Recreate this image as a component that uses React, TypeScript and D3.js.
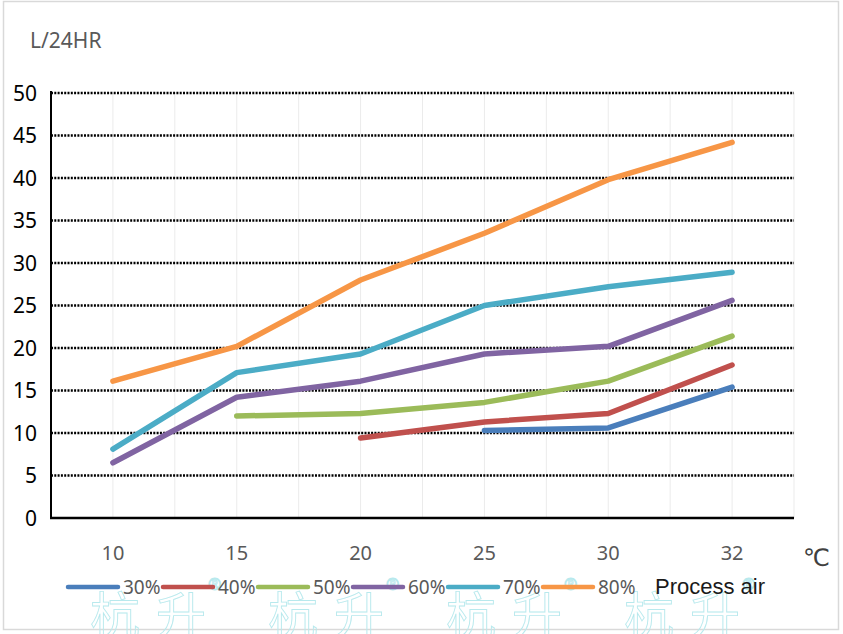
import React, { useRef, useEffect } from 'react';
import { select, scaleBand, scaleLinear, line, range } from 'd3';

const dim = {
  width: 843,
  height: 634,
  left: 51,
  right: 794,
  top: 93,
  bottom: 518,
};

const temps = ['10', '15', '20', '25', '30', '32'];
const yTicks = [0, 5, 10, 15, 20, 25, 30, 35, 40, 45, 50];

const rh30 = [null, null, null, 10.3, 10.6, 15.4];
const rh40 = [null, null, 9.4, 11.3, 12.3, 18.0];
const rh50 = [null, 12.0, 12.3, 13.6, 16.1, 21.4];
const rh60 = [6.5, 14.2, 16.1, 19.3, 20.2, 25.6];
const rh70 = [8.1, 17.1, 19.3, 25.0, 27.2, 28.9];
const rh80 = [16.1, 20.2, 28.0, 33.5, 39.8, 44.2];

const seriesNames = ['30%', '40%', '50%', '60%', '70%', '80%'];
const seriesValues = [rh30, rh40, rh50, rh60, rh70, rh80];
const colors = ['#4a7ebb', '#c0504d', '#9bbb59', '#8064a2', '#4bacc6', '#f79646'];

const FONT = '"Noto Sans", "Open Sans", sans-serif';

const App = () => {
  const svgRef = useRef(null);

  useEffect(() => {
    const svg = select(svgRef.current);
    svg.selectAll('*').remove();

    const x = scaleBand<string>().domain(temps).range([dim.left, dim.right]);
    const y = scaleLinear().domain([0, 50]).range([dim.bottom, dim.top]);
    const cx = (t: string) => (x(t) as number) + x.bandwidth() / 2;

    // frame
    svg
      .append('rect')
      .attr('x', 3.5)
      .attr('y', 1.5)
      .attr('width', 835)
      .attr('height', 628)
      .attr('fill', '#fff')
      .attr('stroke', '#d9d9d9')
      .attr('stroke-width', 1.5);

    // light vertical grid (category centres and boundaries)
    const vx: number[] = [];
    temps.forEach((t) => {
      vx.push(cx(t));
      vx.push((x(t) as number) + x.bandwidth());
    });
    svg
      .append('g')
      .selectAll('line')
      .data(vx)
      .join('line')
      .attr('x1', (d) => d)
      .attr('x2', (d) => d)
      .attr('y1', dim.top)
      .attr('y2', dim.bottom)
      .attr('stroke', '#ebebeb')
      .attr('stroke-width', 1);

    // dotted horizontal grid
    svg
      .append('g')
      .selectAll('line')
      .data(yTicks.filter((d) => d > 0))
      .join('line')
      .attr('x1', dim.left)
      .attr('x2', dim.right)
      .attr('y1', (d) => y(d))
      .attr('y2', (d) => y(d))
      .attr('stroke', '#000')
      .attr('stroke-width', 2.4)
      .attr('stroke-dasharray', '2,1.3');

    // axes lines
    svg
      .append('line')
      .attr('x1', dim.left)
      .attr('x2', dim.left)
      .attr('y1', dim.top - 2)
      .attr('y2', dim.bottom)
      .attr('stroke', '#000')
      .attr('stroke-width', 2);
    svg
      .append('line')
      .attr('x1', dim.left - 1)
      .attr('x2', dim.right)
      .attr('y1', dim.bottom)
      .attr('y2', dim.bottom)
      .attr('stroke', '#000')
      .attr('stroke-width', 2.5);

    // y tick labels
    svg
      .append('g')
      .selectAll('text')
      .data(yTicks)
      .join('text')
      .attr('x', 37)
      .attr('y', (d) => y(d) + 7.5)
      .attr('text-anchor', 'end')
      .attr('font-family', FONT)
      .attr('font-size', 21)
      .attr('fill', '#000')
      .text((d) => d);

    // x tick labels
    svg
      .append('g')
      .selectAll('text')
      .data(temps)
      .join('text')
      .attr('x', (d) => cx(d))
      .attr('y', 560)
      .attr('text-anchor', 'middle')
      .attr('font-family', FONT)
      .attr('font-size', 20)
      .attr('fill', '#595959')
      .text((d) => d);

    svg
      .append('text')
      .attr('x', 30)
      .attr('y', 48)
      .attr('font-family', FONT)
      .attr('font-size', 21)
      .attr('fill', '#595959')
      .text('L/24HR');

    svg
      .append('text')
      .attr('x', 803)
      .attr('y', 566)
      .attr('font-family', '"DejaVu Sans", sans-serif')
      .attr('font-size', 24)
      .attr('fill', '#404040')
      .text('℃');

    // series lines
    const lineGen = line<number | null>()
      .defined((d) => d !== null)
      .x((_, i) => cx(temps[i]))
      .y((d) => y(d as number));

    svg
      .append('g')
      .selectAll('path')
      .data(seriesValues)
      .join('path')
      .attr('d', (d) => lineGen(d))
      .attr('fill', 'none')
      .attr('stroke', (_, i) => colors[i])
      .attr('stroke-width', 5.5)
      .attr('stroke-linecap', 'round')
      .attr('stroke-linejoin', 'round');

    // watermark
    const wm = svg.append('g').attr('fill', 'none').attr('stroke', '#b8e9ed').attr('stroke-width', 0.9);
    range(4).forEach((k) => {
      const x0 = 90 + k * 178;
      wm.append('text')
        .attr('x', x0)
        .attr('y', 634)
        .attr('font-family', '"Noto Sans CJK SC", sans-serif')
        .attr('font-size', 50)
        .text('杭');
      wm.append('text')
        .attr('x', x0 + 66)
        .attr('y', 634)
        .attr('font-family', '"Noto Sans CJK SC", sans-serif')
        .attr('font-size', 50)
        .text('升');
      wm.append('text')
        .attr('x', x0 + 118)
        .attr('y', 590)
        .attr('font-family', FONT)
        .attr('font-size', 16)
        .text('®');
    });

    // legend
    const lg = svg
      .append('g')
      .selectAll('g')
      .data(seriesNames)
      .join('g')
      .attr('transform', (_, i) => `translate(${68 + i * 95},587)`);
    lg.append('line')
      .attr('x1', 0)
      .attr('x2', 50)
      .attr('stroke', (_, i) => colors[i])
      .attr('stroke-width', 4.5)
      .attr('stroke-linecap', 'round');
    lg.append('text')
      .attr('x', 55)
      .attr('y', 7)
      .attr('font-family', FONT)
      .attr('font-size', 19)
      .attr('fill', '#595959')
      .text((d) => d);

    svg
      .append('text')
      .attr('x', 655)
      .attr('y', 594)
      .attr('font-family', '"Liberation Sans", Arial, sans-serif')
      .attr('font-size', 22)
      .attr('fill', '#1a1a1a')
      .text('Process air');
  }, []);

  return (
    <div style={{ position: 'absolute', left: 0, top: 0 }}>
      <svg width={dim.width} height={dim.height} ref={svgRef} style={{ display: 'block' }} />
    </div>
  );
};

export default App;
